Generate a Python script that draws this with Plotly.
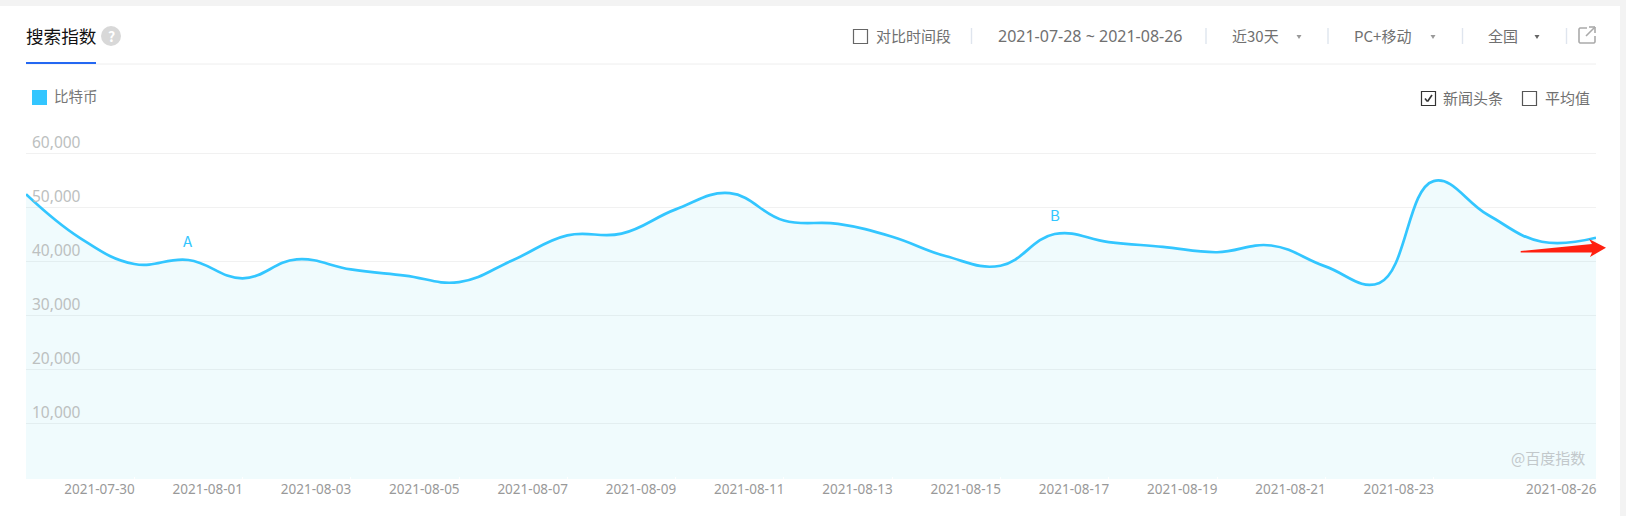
import plotly.graph_objects as go

dates = ["2021-07-28","2021-07-29","2021-07-30","2021-07-31","2021-08-01","2021-08-02","2021-08-03","2021-08-04","2021-08-05","2021-08-06",
         "2021-08-07","2021-08-08","2021-08-09","2021-08-10","2021-08-11","2021-08-12","2021-08-13","2021-08-14","2021-08-15","2021-08-16",
         "2021-08-17","2021-08-18","2021-08-19","2021-08-20","2021-08-21","2021-08-22","2021-08-23","2021-08-24","2021-08-25","2021-08-26"]
bitcoin = [52375,44250,39440,40190,36800,40300,38440,37300,36100,40190,
           44750,45060,49560,52560,47500,46875,44500,40875,39125,45000,
           43500,42625,41625,42875,39000,35940,54800,48560,43560,44310]
x_ticks = ["2021-07-30","2021-08-01","2021-08-03","2021-08-05","2021-08-07","2021-08-09","2021-08-11",
           "2021-08-13","2021-08-15","2021-08-17","2021-08-19","2021-08-21","2021-08-23","2021-08-26"]
y_ticks = [10000,20000,30000,40000,50000,60000]
events = [("A","2021-07-31",40190),("B","2021-08-16",45000)]
Y_MIN, Y_MAX = -370, 65185

W, H = 1626, 516
L, R, T, B = 26, 1596, 125, 479
FONT = "Noto Sans CJK SC, Noto Sans, sans-serif"
LATIN = "Noto Sans, Noto Sans CJK SC, sans-serif"
BLUE = "#33c6ff"

def px(x): return (x - L) / (R - L)
def py(y): return (B - y) / (B - T)

shapes, notes = [], []

def rect(x0, y0, x1, y1, fill=None, line=None, lw=1.2):
    shapes.append(dict(type="rect", xref="paper", yref="paper", x0=px(x0), x1=px(x1), y0=py(y0), y1=py(y1),
                       fillcolor=fill or "rgba(0,0,0,0)", line=dict(color=line or "rgba(0,0,0,0)", width=lw if line else 0), layer="above"))

def seg(x0, y0, x1, y1, color, lw=1):
    shapes.append(dict(type="line", xref="paper", yref="paper", x0=px(x0), x1=px(x1), y0=py(y0), y1=py(y1),
                       line=dict(color=color, width=lw), layer="above"))

def poly(pts, fill, line=None, lw=0):
    d = "M" + " L".join(f"{px(a):.6f},{py(b):.6f}" for a, b in pts) + " Z"
    shapes.append(dict(type="path", xref="paper", yref="paper", path=d, fillcolor=fill,
                       line=dict(color=line or "rgba(0,0,0,0)", width=lw), layer="above"))

def text(x, y, s, size=14, color="#707070", anchor="left", family=FONT):
    notes.append(dict(xref="paper", yref="paper", x=px(x), y=py(y), text=s, showarrow=False, xanchor=anchor, yanchor="middle",
                      font=dict(family=family, size=size, color=color), borderpad=0, borderwidth=0))

# page frame
rect(0, 0, W, 6, fill="#f3f3f3")
rect(1620, 0, W, H, fill="#f3f3f3")
seg(26, 64, 1596, 64, "#eeeeee", 1)
rect(26, 62, 96, 64, fill="#2468f2")

text(26, 35, "搜索指数", 17.6, "#111111")
shapes.append(dict(type="circle", xref="paper", yref="paper", x0=px(101), x1=px(121), y0=py(46), y1=py(26),
                   fillcolor="#d8d8d8", line=dict(width=0), layer="above"))
text(111, 35.5, "<b>?</b>", 14, "#ffffff", "center")

rect(853.5, 29.5, 867.5, 43.5, line="#666666")
text(876, 35, "对比时间段", 15)
for sx in (971.5, 1206, 1328, 1462.5, 1566.5):
    seg(sx, 28, sx, 44, "#dfe5ee", 1.4)
text(998, 35.5, "2021-07-28 ~ 2021-08-26", 16, family=LATIN)
text(1232, 35, "近30天", 15)
poly([(1296.5, 35), (1301.5, 35), (1299, 39)], "#999999")
text(1354, 35, "PC+移动", 15)
poly([(1430.5, 35), (1435.5, 35), (1433, 39)], "#999999")
text(1488, 35, "全国", 15)
poly([(1534.5, 35), (1539.5, 35), (1537, 39)], "#666666")
# export icon
shapes.append(dict(type="path", xref="paper", yref="paper",
                   path="M" + " L".join(f"{px(a):.6f},{py(b):.6f}" for a, b in [(1587, 28), (1580, 28), (1579, 29), (1579, 42), (1580, 43), (1594, 43), (1595, 42), (1595, 36)]),
                   line=dict(color="#aaaaaa", width=1.6), layer="above"))
seg(1586, 36, 1595, 27, "#aaaaaa", 1.6)
seg(1589, 27, 1595, 27, "#aaaaaa", 1.6)
seg(1595, 27, 1595, 33, "#aaaaaa", 1.6)

rect(32, 90, 47, 105, fill=BLUE)
text(54, 95, "比特币", 14.5, "#777777")

rect(1421.5, 91.5, 1435.5, 105.5, line="#333333")
seg(1425, 98.5, 1427.5, 101.5, "#333333", 1.6)
seg(1427.5, 101.5, 1432, 95, "#333333", 1.6)
text(1443, 97.5, "新闻头条", 15)
rect(1522.5, 91.5, 1536.5, 105.5, line="#555555")
text(1545, 97.5, "平均值", 15)

text(1511, 457, "@百度指数", 15, "#c2c8cb")

# red arrow
poly([(1520.7, 251), (1592, 244), (1589, 239), (1606, 247.7), (1590, 257), (1592, 252.5), (1520.7, 252.5)], "#ff2010")

for label, d, v in events:
    notes.append(dict(x=d, y=v, xref="x", yref="y", text=label, showarrow=False, yanchor="bottom", yshift=7,
                      font=dict(family=FONT, size=15, color=BLUE)))

fig = go.Figure()
fig.add_trace(go.Scatter(x=dates, y=[Y_MIN] * len(dates), mode="lines", line=dict(width=0), hoverinfo="skip", showlegend=False))
fig.add_trace(go.Scatter(x=dates, y=bitcoin, mode="lines", name="比特币", fill="tonexty",
                         fillcolor="rgba(40,200,230,0.07)",
                         line=dict(color=BLUE, width=2.7, shape="spline", smoothing=1.2), showlegend=False))

fig.update_layout(
    width=W, height=H, margin=dict(l=L, r=W - R, t=T, b=H - B), paper_bgcolor="#ffffff", plot_bgcolor="#ffffff",
    font=dict(family=FONT), shapes=shapes, annotations=notes, showlegend=False,
    xaxis=dict(type="date", range=[dates[0], dates[-1]], tickmode="array", tickvals=x_ticks, ticktext=x_ticks,
               ticklabelposition="outside left", ticklabelshift=1, ticks="inside", ticklen=2, tickcolor="#ffffff", showgrid=False, zeroline=False,
               showline=False, tickfont=dict(size=13.5, color="#999999", family=LATIN)),
    yaxis=dict(range=[Y_MIN, Y_MAX], tickmode="array", tickvals=y_ticks, ticktext=[f"{v:,}" for v in y_ticks],
               ticklabelposition="inside top", ticklabelstandoff=3, showgrid=True, gridcolor="#f1f1f1", gridwidth=1.4, zeroline=False, showline=False,
               ticks="", tickfont=dict(size=15.5, color="#bcc0c0", family=LATIN)),
)

fig.write_html("out.html", config=dict(displayModeBar=False),
               post_script="document.body.style.margin='0';document.documentElement.style.overflow='hidden';")
